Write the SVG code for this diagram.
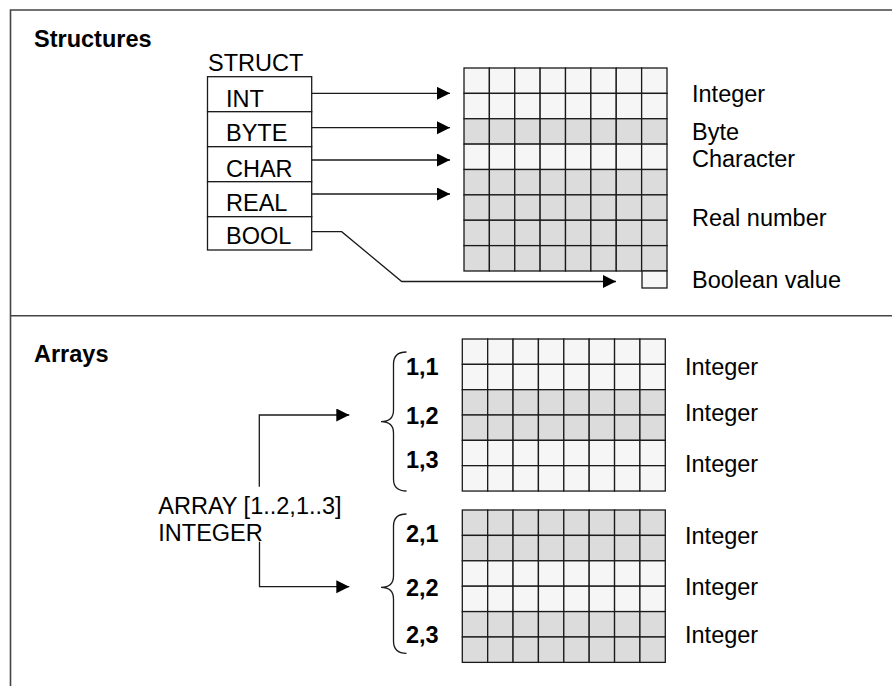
<svg xmlns="http://www.w3.org/2000/svg" xmlns:xlink="http://www.w3.org/1999/xlink" width="892" height="686" viewBox="0 0 892 686">
<style>
text{font-family:"Liberation Sans",Arial,sans-serif;font-size:23.5px;fill:#000}
.b{font-weight:bold}
.cell rect{stroke:#1a1a1a;stroke-width:1.3}
.L{fill:#f6f6f6}
.D{fill:#dcdcdc}
.box{fill:#fff;stroke:#1a1a1a;stroke-width:1.3}
.con{fill:none;stroke:#1a1a1a;stroke-width:1.3}
.frame{fill:none;stroke:#444;stroke-width:1.6}
</style>
<defs>
<marker id="ah" markerUnits="userSpaceOnUse" markerWidth="14" markerHeight="14" refX="13" refY="6.5" orient="auto">
<path d="M0,0 L13,6.5 L0,13 Z" fill="#000"/>
</marker>
<g id="row" class="cell">
<rect x="0" y="0" width="25.375" height="25.375"/>
<rect x="25.375" y="0" width="25.375" height="25.375"/>
<rect x="50.75" y="0" width="25.375" height="25.375"/>
<rect x="76.125" y="0" width="25.375" height="25.375"/>
<rect x="101.5" y="0" width="25.375" height="25.375"/>
<rect x="126.875" y="0" width="25.375" height="25.375"/>
<rect x="152.25" y="0" width="25.375" height="25.375"/>
<rect x="177.625" y="0" width="25.375" height="25.375"/>
</g>
</defs>
<rect width="892" height="686" fill="#fff"/>
<g id="frame">
<path class="frame" d="M10.5,700 V10 H900"/>
<line class="frame" x1="10.5" y1="315.7" x2="900" y2="315.7"/>
</g>
<text class="b" x="34" y="47">Structures</text>
<text class="b" x="34" y="362">Arrays</text>

<g id="struct">
<text x="208" y="70.5">STRUCT</text>
<g id="f-int"><rect class="box" x="207.5" y="76.7" width="104.2" height="35"/><text x="226" y="106.5">INT</text></g>
<g id="f-byte"><rect class="box" x="207.5" y="111.7" width="104.2" height="35"/><text x="226" y="140.5">BYTE</text></g>
<g id="f-char"><rect class="box" x="207.5" y="146.7" width="104.2" height="35"/><text x="226" y="176.5">CHAR</text></g>
<g id="f-real"><rect class="box" x="207.5" y="181.7" width="104.2" height="35"/><text x="226" y="211">REAL</text></g>
<g id="f-bool"><rect class="box" x="207.5" y="216.7" width="104.2" height="33.3"/><text x="226" y="244">BOOL</text></g>
</g>

<g id="struct-memory">
<use xlink:href="#row" href="#row" class="L" x="464" y="68"/>
<use xlink:href="#row" href="#row" class="L" x="464" y="93.375"/>
<use xlink:href="#row" href="#row" class="D" x="464" y="118.75"/>
<use xlink:href="#row" href="#row" class="L" x="464" y="144.125"/>
<use xlink:href="#row" href="#row" class="D" x="464" y="169.5"/>
<use xlink:href="#row" href="#row" class="D" x="464" y="194.875"/>
<use xlink:href="#row" href="#row" class="D" x="464" y="220.25"/>
<use xlink:href="#row" href="#row" class="D" x="464" y="245.625"/>
<g class="cell"><rect class="L" x="642" y="271" width="25" height="17"/></g>
</g>

<g id="struct-labels">
<text x="692" y="101.5">Integer</text>
<text x="692" y="140">Byte</text>
<text x="692" y="167">Character</text>
<text x="692" y="226">Real number</text>
<text x="692" y="287.5">Boolean value</text>
</g>

<g id="array1">
<use xlink:href="#row" href="#row" class="L" x="462.3" y="339"/>
<use xlink:href="#row" href="#row" class="L" x="462.3" y="364.33"/>
<use xlink:href="#row" href="#row" class="D" x="462.3" y="389.67"/>
<use xlink:href="#row" href="#row" class="D" x="462.3" y="415"/>
<use xlink:href="#row" href="#row" class="L" x="462.3" y="440.33"/>
<use xlink:href="#row" href="#row" class="L" x="462.3" y="465.67"/>
<path class="con" d="M406.5,352 Q393.5,352 393.5,364 V410 Q393.5,421.7 381,421.7 Q393.5,421.7 393.5,433 V479 Q393.5,491 406.5,491"/>
<text class="b" x="406" y="375">1,1</text>
<text class="b" x="406" y="424">1,2</text>
<text class="b" x="406" y="468.3">1,3</text>
<text x="685" y="375">Integer</text>
<text x="685" y="420.7">Integer</text>
<text x="685" y="471.7">Integer</text>
</g>

<g id="array2">
<use xlink:href="#row" href="#row" class="D" x="462.3" y="510"/>
<use xlink:href="#row" href="#row" class="D" x="462.3" y="535.4"/>
<use xlink:href="#row" href="#row" class="L" x="462.3" y="560.8"/>
<use xlink:href="#row" href="#row" class="L" x="462.3" y="586.2"/>
<use xlink:href="#row" href="#row" class="D" x="462.3" y="611.6"/>
<use xlink:href="#row" href="#row" class="D" x="462.3" y="637"/>
<path class="con" d="M406.5,514 Q393.5,514 393.5,526 V576 Q393.5,587.3 381,587.3 Q393.5,587.3 393.5,599 V641 Q393.5,653.3 406.5,653.3"/>
<text class="b" x="406" y="542.3">2,1</text>
<text class="b" x="406" y="595.7">2,2</text>
<text class="b" x="406" y="642.7">2,3</text>
<text x="685" y="544.3">Integer</text>
<text x="685" y="595">Integer</text>
<text x="685" y="643.3">Integer</text>
</g>

<g id="array-decl">
<text x="158.3" y="514">ARRAY [1..2,1..3]</text>
<text x="158.3" y="540.7">INTEGER</text>
</g>

<g id="connectors">
<line class="con" x1="311.7" y1="93.3" x2="450" y2="93.3" marker-end="url(#ah)"/>
<line class="con" x1="311.7" y1="127.7" x2="450" y2="127.7" marker-end="url(#ah)"/>
<line class="con" x1="311.7" y1="160" x2="450" y2="160" marker-end="url(#ah)"/>
<line class="con" x1="311.7" y1="194" x2="450" y2="194" marker-end="url(#ah)"/>
<path class="con" d="M311.7,231.7 H341.7 L401.7,281.5 H616" marker-end="url(#ah)"/>
<path class="con" d="M259.3,486.7 V415 H349.3" marker-end="url(#ah)"/>
<path class="con" d="M259.5,541.7 V586.7 H349.3" marker-end="url(#ah)"/>
</g>
</svg>
